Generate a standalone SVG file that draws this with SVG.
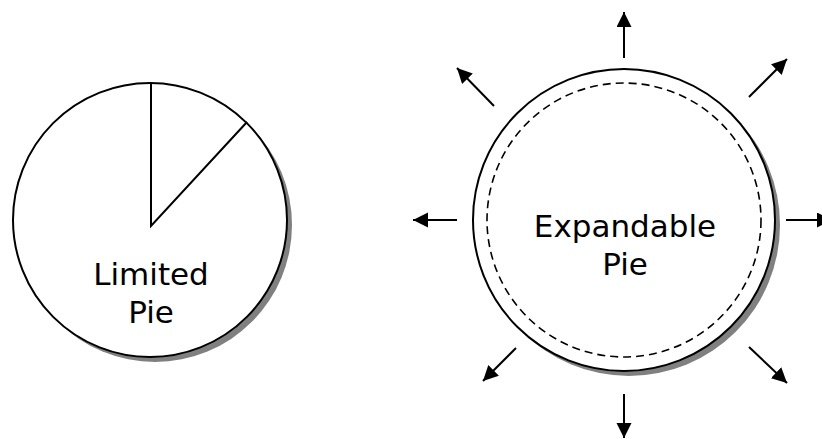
<svg xmlns="http://www.w3.org/2000/svg" width="822" height="439" viewBox="0 0 822 439">
  <style>
    .shadow { fill: #808080; stroke: none; }
    .disc { fill: #ffffff; stroke: #000000; stroke-width: 2; }
    .slice { fill: none; stroke: #000000; stroke-width: 2; }
    .rim { fill: none; stroke: #000000; stroke-width: 1.6; stroke-dasharray: 8 5; }
    .label { font-family: "DejaVu Sans", Verdana, sans-serif; font-size: 31px; fill: #000000; text-anchor: middle; }
    .ray { stroke: #000000; stroke-width: 2; fill: none; marker-end: url(#head); }
  </style>
  <defs>
    <marker id="head" markerUnits="userSpaceOnUse" markerWidth="16" markerHeight="16" refX="15" refY="7.5" orient="auto">
      <path d="M0,0 L15,7.5 L0,15 z" fill="#000000"/>
    </marker>
  </defs>
  <rect width="822" height="439" fill="#ffffff"/>

  <!-- fixed-size pie with one slice cut out -->
  <g id="limited-pie">
    <circle class="shadow" cx="155" cy="225" r="137"/>
    <circle class="disc" cx="150" cy="220" r="137"/>
    <polyline class="slice" points="151,83 151,226 247,122"/>
    <text class="label" x="151" y="285">Limited</text>
    <text class="label" x="151" y="323">Pie</text>
  </g>

  <!-- pie that grows outward -->
  <g id="expandable-pie">
    <circle class="shadow" cx="629" cy="225" r="151"/>
    <circle class="disc" cx="624" cy="220" r="151"/>
    <circle class="rim" cx="624" cy="220" r="137"/>
    <text class="label" x="625" y="237">Expandable</text>
    <text class="label" x="625" y="275">Pie</text>
  </g>

  <!-- growth arrows around the expandable pie -->
  <g id="connectors">
    <line class="ray" x1="624" y1="58" x2="624" y2="12"/>
    <line class="ray" x1="494" y1="106" x2="457" y2="68"/>
    <line class="ray" x1="749" y1="97" x2="787" y2="59"/>
    <line class="ray" x1="457" y1="220" x2="413" y2="220"/>
    <line class="ray" x1="786" y1="220" x2="832" y2="220"/>
    <line class="ray" x1="516" y1="348" x2="483" y2="381"/>
    <line class="ray" x1="749" y1="347" x2="787" y2="383"/>
    <line class="ray" x1="624" y1="394" x2="624" y2="438"/>
  </g>
</svg>
